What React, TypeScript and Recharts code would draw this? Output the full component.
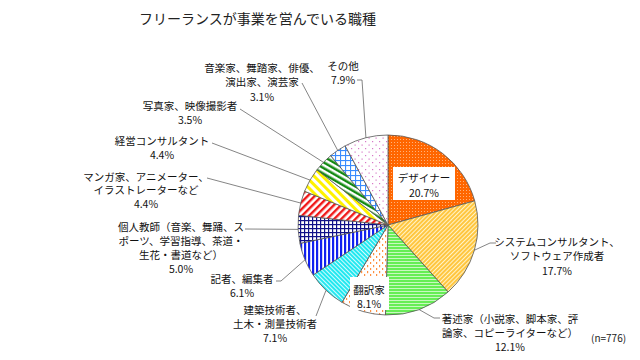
import React from 'react';
import { PieChart, Pie, Cell } from 'recharts';

const CATEGORIES = [
  'デザイナー',
  'システムコンサルタント、\nソフトウェア作成者',
  '著述家（小説家、脚本家、評\n論家、コピーライターなど）',
  '翻訳家',
  '建築技術者、\n土木・測量技術者',
  '記者、編集者',
  '個人教師（音楽、舞踊、ス\nポーツ、学習指導、茶道・\n生花・書道など）',
  'マンガ家、アニメーター、\nイラストレーターなど',
  '経営コンサルタント',
  '写真家、映像撮影者',
  '音楽家、舞踏家、俳優、\n演出家、演芸家',
  'その他',
];
const SHARES = [20.7, 17.7, 12.1, 8.1, 7.1, 6.1, 5.0, 4.4, 4.4, 3.5, 3.1, 7.9];
const SAMPLE_N = 776;

const data = CATEGORIES.map((name, i) => ({ name, value: SHARES[i] }));

// label placement (text centre x, first line y, line gap, leader start, boxed inside slice)
const LABEL_LAYOUT = [
  { x: 424, y: 177, gap: 15, box: [393, 167, 62, 33] },
  { x: 557, y: 241, gap: 14.5, lead: [496, 243, 490] },
  { x: 510, y: 318, gap: 14, lead: [440, 318, 434] },
  { x: 369, y: 289, gap: 14, box: [350, 277, 39, 33] },
  { x: 275, y: 309, gap: 14, lead: [316, 316, 316] },
  { x: 242, y: 278, gap: 14.5, lead: [276, 281, 281] },
  { x: 181, y: 226, gap: 14, lead: [245, 229, 245] },
  { x: 146, y: 176, gap: 13.5, lead: [207, 178, 207] },
  { x: 162, y: 140, gap: 14, lead: [212, 143, 212] },
  { x: 190, y: 105, gap: 14.5, lead: [240, 109, 240] },
  { x: 262, y: 67, gap: 14.5, lead: [302, 83, 302] },
  { x: 343, y: 65, gap: 14, lead: [357, 80, 362] },
];

const FONT = '"Noto Sans CJK JP", "Noto Sans", sans-serif';
const RAD = Math.PI / 180;

const renderLabel = (props: any) => {
  const { cx, cy, midAngle, outerRadius, index } = props;
  const lay = LABEL_LAYOUT[index];
  const lines = [...CATEGORIES[index].split('\n'), `${SHARES[index].toFixed(1)}%`];
  const ax = cx + outerRadius * Math.cos(-midAngle * RAD);
  const ay = cy + outerRadius * Math.sin(-midAngle * RAD);
  return (
    <g key={`lbl-${index}`}>
      {lay.box && (
        <rect x={lay.box[0]} y={lay.box[1]} width={lay.box[2]} height={lay.box[3]} fill="#fff" />
      )}
      {lay.lead && (
        <polyline
          points={`${lay.lead[0]},${lay.lead[1]} ${lay.lead[2]},${lay.lead[1]} ${ax},${ay}`}
          fill="none"
          stroke="#666"
          strokeWidth={0.8}
        />
      )}
      {lines.map((t, k) => (
        <text
          key={k}
          x={lay.x}
          y={lay.y + k * lay.gap}
          textAnchor="middle"
          dominantBaseline="central"
          fontSize={10.5}
          fontFamily={FONT}
          fill="#111"
        >
          {t}
        </text>
      ))}
    </g>
  );
};

const Patterns = () => (
  <defs>
    <pattern id="pat-0" width="3" height="3" patternUnits="userSpaceOnUse">
      <rect width="3" height="3" fill="#FF6600" />
      <rect x="1" y="1" width="1" height="1" fill="#FFB27A" />
    </pattern>
    <pattern id="pat-1" width="3" height="3" patternUnits="userSpaceOnUse" patternTransform="rotate(45)">
      <rect width="3" height="3" fill="#FFC640" />
      <rect width="1" height="3" fill="#FFF3C8" />
    </pattern>
    <pattern id="pat-2" width="3" height="3" patternUnits="userSpaceOnUse">
      <rect width="3" height="3" fill="#66EE55" />
      <rect width="3" height="1" fill="#C8F8C0" />
    </pattern>
    <pattern id="pat-3" width="6" height="6" patternUnits="userSpaceOnUse">
      <rect width="6" height="6" fill="#fff" />
      <rect x="1" y="1" width="1.2" height="2.2" fill="#FF9040" />
      <rect x="4" y="4" width="1.2" height="2.2" fill="#FF9040" />
    </pattern>
    <pattern id="pat-4" width="3" height="3" patternUnits="userSpaceOnUse" patternTransform="rotate(-45)">
      <rect width="3" height="3" fill="#22E8F0" />
      <rect width="1" height="3" fill="#D4FBFD" />
    </pattern>
    <pattern id="pat-5" width="4" height="4" patternUnits="userSpaceOnUse">
      <rect width="4" height="4" fill="#fff" />
      <rect width="2.2" height="4" fill="#1020F0" />
    </pattern>
    <pattern id="pat-6" width="4" height="4" patternUnits="userSpaceOnUse">
      <rect width="4" height="4" fill="#fff" />
      <rect width="1.2" height="4" fill="#101088" />
      <rect width="4" height="1.2" fill="#101088" />
    </pattern>
    <pattern id="pat-7" width="5" height="5" patternUnits="userSpaceOnUse" patternTransform="rotate(45)">
      <rect width="5" height="5" fill="#fff" />
      <rect width="2.4" height="5" fill="#F01818" />
    </pattern>
    <pattern id="pat-8" width="6" height="6" patternUnits="userSpaceOnUse" patternTransform="rotate(-45)">
      <rect width="6" height="6" fill="#fff" />
      <rect width="3" height="6" fill="#FFF200" />
    </pattern>
    <pattern id="pat-9" width="5" height="5" patternUnits="userSpaceOnUse" patternTransform="rotate(-60)">
      <rect width="5" height="5" fill="#fff" />
      <rect width="2.5" height="5" fill="#138A13" />
    </pattern>
    <pattern id="pat-10" width="5" height="5" patternUnits="userSpaceOnUse">
      <rect width="5" height="5" fill="#fff" />
      <rect width="1.1" height="5" fill="#3A8CFF" />
      <rect width="5" height="1.1" fill="#3A8CFF" />
    </pattern>
    <pattern id="pat-11" width="7" height="7" patternUnits="userSpaceOnUse">
      <rect width="7" height="7" fill="#fff" />
      <rect x="1" y="1" width="1.2" height="1.2" fill="#D878C8" />
      <rect x="4.5" y="4.5" width="1.2" height="1.2" fill="#D878C8" />
    </pattern>
  </defs>
);

export default function App() {
  return (
    <div style={{ position: 'absolute', left: 0, top: 0, width: 640, height: 360, background: '#fff', fontFamily: FONT }}>
      <div style={{ position: 'absolute', left: 139, top: 8, fontSize: 14, color: '#222', whiteSpace: 'nowrap' }}>
        フリーランスが事業を営んでいる職種
      </div>
      <div style={{ position: 'absolute', left: 591, top: 330, fontSize: 10, color: '#222' }}>
        (n={SAMPLE_N})
      </div>
      <div style={{ position: 'absolute', left: 0, top: 0 }}>
        <PieChart width={640} height={360} margin={{ top: 0, right: 0, bottom: 0, left: 0 }}>
          <Patterns />
          <Pie
            data={data}
            dataKey="value"
            nameKey="name"
            cx={388}
            cy={225}
            outerRadius={90}
            startAngle={90}
            endAngle={-270}
            stroke="#555"
            strokeWidth={0.8}
            labelLine={false}
            label={renderLabel}
            isAnimationActive={false}
          >
            {data.map((d, i) => (
              <Cell key={`cell-${i}`} fill={`url(#pat-${i})`} />
            ))}
          </Pie>
        </PieChart>
      </div>
    </div>
  );
}
